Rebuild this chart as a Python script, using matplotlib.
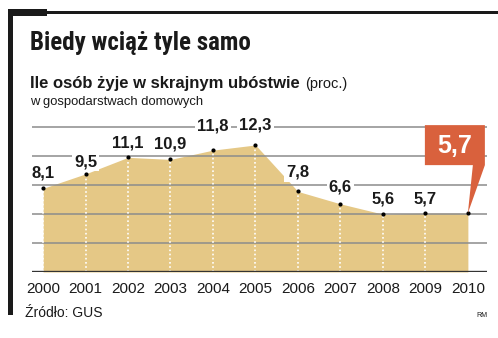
import matplotlib
matplotlib.use("Agg")
import matplotlib.pyplot as plt
from matplotlib import font_manager
from matplotlib.patches import Polygon, Rectangle
from matplotlib.transforms import IdentityTransform

years = [2000, 2001, 2002, 2003, 2004, 2005, 2006, 2007, 2008, 2009, 2010]
values = [8.1, 9.5, 11.1, 10.9, 11.8, 12.3, 7.8, 6.6, 5.6, 5.7, 5.7]
grid_levels = [2.8, 5.6, 8.4, 11.2, 14.0]

title = "Biedy wciąż tyle samo"
subtitle = "Ile osób żyje w skrajnym ubóstwie"
unit = "(proc.)"
note = "w gospodarstwach domowych"
source = "Źródło: GUS"
author = "RM"

# label lift above each point, in pixels (last point gets the callout)
label_lift = [15, 12, 14, 15, 24, 20, 19, 17, 15, 14]

FILL = "#E5C886"
RED = "#D9613D"

available = {f.name for f in font_manager.fontManager.ttflist}


def pick(*names):
    for n in names:
        if n in available:
            return n
    return "DejaVu Sans"


BODY = pick("Liberation Sans", "Roboto", "Open Sans")
NARROW = pick("Liberation Sans Narrow", "Roboto Condensed", "Liberation Sans")

W, H = 498, 338
fig = plt.figure(figsize=(W / 100, H / 100), dpi=100)


def px_rect(x0, y0, x1, y1, color):
    # rectangle given in image pixels (origin top-left)
    fig.add_artist(Rectangle((x0 / W, 1 - y1 / H), (x1 - x0) / W, (y1 - y0) / H,
                             transform=fig.transFigure, color=color, lw=0))


# frame
px_rect(8, 10, 13, 315, "#1a1a1a")
px_rect(8, 9, 47, 16, "#1a1a1a")
px_rect(47, 11, 498, 14, "#1a1a1a")

ax = fig.add_axes([32 / W, 1 - 272 / H, 455 / W, 157 / H])
ax.set_xlim(1999.74, 2010.45)
ax.set_ylim(0, 15.2)

ax.fill_between(years, values, 0, color=FILL, lw=0, zorder=1)
for lv in grid_levels:
    ax.axhline(lv, color="#8c8c8c", lw=1.1, zorder=2)
ax.vlines(years[:-1], 0, values[:-1], colors="white", linestyles=(0, (1, 1.5)), lw=1.2, zorder=3)
ax.axhline(0, color="#333333", lw=2.4, zorder=4)
ax.scatter(years, values, s=9, color="black", zorder=5, lw=0)

for x, v, lift in zip(years, values, label_lift):
    ax.annotate(f"{v:.1f}".replace(".", ","), (x, v), xytext=(0, lift), textcoords="offset pixels",
                ha="center", va="center", fontsize=12, fontweight="bold", family=BODY,
                color="#1a1a1a", bbox=dict(fc="white", ec="none", pad=1.5), zorder=6)

for s in ax.spines.values():
    s.set_visible(False)
ax.set_yticks([])
ax.set_xticks(years)
ax.set_xticklabels([str(y) for y in years], fontsize=11, family=BODY, color="#1a1a1a")
ax.tick_params(axis="x", length=0, pad=7)

# callout for the last value
tx, ty = ax.transData.transform((years[-1], values[-1]))
shape = [(-43, 48), (-43, 88), (17, 88), (17, 48), (0, 0), (5, 48)]
fig.add_artist(Polygon([(tx + dx, ty + dy) for dx, dy in shape], closed=True,
                       transform=IdentityTransform(), color=RED, lw=0, zorder=10))
fig.text((tx - 13) / W, (ty + 67) / H, f"{values[-1]:.1f}".replace(".", ","),
         ha="center", va="center", fontsize=18, fontweight="bold", family=BODY,
         color="white", zorder=11)

# titles
fig.text(30 / W, 1 - 50 / H, title, va="baseline", fontsize=18, fontweight="bold",
         family=NARROW, color="#1a1a1a")
sub = fig.text(30 / W, 1 - 88 / H, subtitle, va="baseline", fontsize=12, fontweight="bold",
               family=BODY, color="#1a1a1a")
r = fig.canvas.get_renderer()
bb = sub.get_window_extent(renderer=r)
fig.text(bb.x1 / W + 5 / W, 1 - 88 / H, unit, va="baseline", fontsize=10.5, family=BODY, color="#1a1a1a")
fig.text(30 / W, 1 - 105 / H, note, va="baseline", fontsize=9.4, family=BODY, color="#1a1a1a")

fig.text(25 / W, 1 - 317 / H, source, va="baseline", fontsize=10, family=BODY, color="#1a1a1a")
fig.text(476 / W, 1 - 317 / H, author, va="baseline", fontsize=5, family=BODY, color="#1a1a1a")

fig.savefig("out.png", dpi=100)
